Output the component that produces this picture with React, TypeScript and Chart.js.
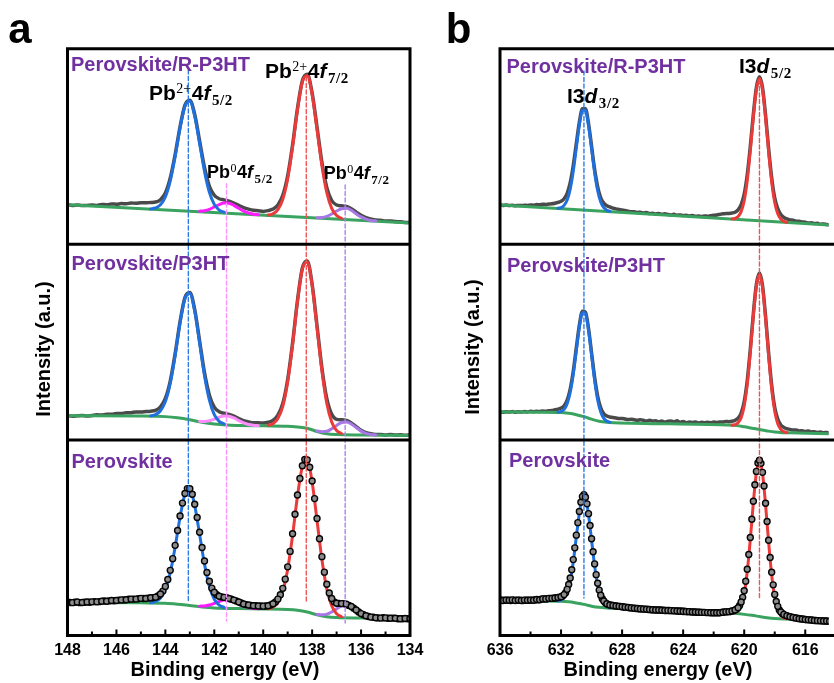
import React, { useEffect, useRef } from "react";
import { Chart, registerables } from "chart.js";
Chart.register(...registerables);

const SANS = '"Liberation Sans", Arial, Helvetica, sans-serif';
const SERIF = '"Liberation Serif", "Times New Roman", Times, serif';

// ---------------- Panel a : Pb 4f (binding energy, eV) ----------------
const xA = [
  148.0, 147.8, 147.6, 147.4, 147.2, 147.0, 146.8, 146.6, 146.4, 146.2,
  146.0, 145.8, 145.6, 145.4, 145.2, 145.0, 144.8, 144.6, 144.4, 144.2,
  144.0, 143.8, 143.6, 143.4, 143.2, 143.0, 142.8, 142.6, 142.4, 142.2,
  142.0, 141.8, 141.6, 141.4, 141.2, 141.0, 140.8, 140.6, 140.4, 140.2,
  140.0, 139.8, 139.6, 139.4, 139.2, 139.0, 138.8, 138.6, 138.4, 138.2,
  138.0, 137.8, 137.6, 137.4, 137.2, 137.0, 136.8, 136.6, 136.4, 136.2,
  136.0, 135.8, 135.6, 135.4, 135.2, 135.0, 134.8, 134.6, 134.4, 134.2,
  134.0,
];
// Perovskite/R-P3HT (top)
const rawTopA = [
  20.3, 19.9, 20.1, 19.8, 19.9, 20.1, 19.9, 20.4, 20.2, 20.6,
  20.5, 20.8, 20.7, 21.1, 21.0, 21.3, 21.2, 21.4, 21.6, 22.8,
  26.2, 33.9, 45.9, 60.1, 71.2, 73.7, 66.4, 52.9, 39.3, 29.7,
  25.1, 23.3, 22.7, 22.1, 21.1, 19.9, 18.8, 18.0, 17.4, 17.2,
  16.8, 17.2, 18.0, 20.1, 25.0, 35.0, 50.8, 69.4, 83.6, 86.9,
  77.3, 59.9, 41.9, 29.0, 22.4, 20.1, 19.7, 19.3, 18.2, 16.4,
  14.8, 13.6, 12.9, 12.4, 12.3, 11.9, 11.9, 11.6, 11.5, 11.2,
  11.2,
];
// Perovskite/P3HT (middle)
const rawMidA = [
  12.4, 12.1, 12.3, 12.5, 12.2, 12.5, 12.8, 12.7, 13.1, 13.1,
  13.5, 13.5, 13.9, 13.9, 14.3, 14.3, 14.5, 14.7, 15.1, 16.9,
  21.2, 30.1, 44.1, 60.4, 72.8, 75.4, 66.6, 50.6, 34.4, 22.9,
  16.7, 14.4, 13.6, 13.0, 12.1, 10.9, 9.8, 9.2, 8.8, 8.8,
  8.6, 9.0, 10.0, 12.7, 18.6, 30.9, 49.5, 71.2, 87.9, 91.5,
  79.6, 58.3, 36.7, 21.1, 13.1, 10.5, 10.3, 9.9, 8.7, 6.8,
  4.9, 3.7, 3.1, 2.8, 2.8, 2.5, 2.7, 2.5, 2.6, 2.4,
  2.6,
];
// Perovskite (bottom) – measured points, two interleaved sampling sets
const rawBotA = [
  17.0, 16.8, 17.1, 16.9, 17.1, 17.2, 17.2, 17.5, 17.5, 17.9,
  17.9, 18.2, 18.3, 18.6, 18.6, 19.0, 18.9, 19.3, 19.6, 21.2,
  25.1, 33.3, 46.1, 61.1, 72.6, 75.0, 67.1, 52.8, 38.1, 27.7,
  22.1, 20.1, 19.5, 18.9, 18.1, 17.1, 16.1, 15.6, 15.2, 15.1,
  15.0, 15.2, 16.2, 18.6, 24.1, 35.1, 52.0, 71.8, 86.8, 89.8,
  79.0, 59.8, 40.3, 26.2, 18.9, 16.5, 16.3, 16.0, 14.8, 13.0,
  11.2, 10.1, 9.4, 9.1, 8.9, 9.0, 8.8, 8.8, 8.6, 8.7,
  8.5,
];
const xA2 = [
  147.9, 147.7, 147.5, 147.3, 147.1, 146.9, 146.7, 146.5, 146.3, 146.1,
  145.9, 145.7, 145.5, 145.3, 145.1, 144.9, 144.7, 144.5, 144.3, 144.1,
  143.9, 143.7, 143.5, 143.3, 143.1, 142.9, 142.7, 142.5, 142.3, 142.1,
  141.9, 141.7, 141.5, 141.3, 141.1, 140.9, 140.7, 140.5, 140.3, 140.1,
  139.9, 139.7, 139.5, 139.3, 139.1, 138.9, 138.7, 138.5, 138.3, 138.1,
  137.9, 137.7, 137.5, 137.3, 137.1, 136.9, 136.7, 136.5, 136.3, 136.1,
  135.9, 135.7, 135.5, 135.3, 135.1, 134.9, 134.7, 134.5, 134.3, 134.1,
];
const rawBotA2 = [
  16.9, 17.0, 16.8, 17.0, 17.0, 17.3, 17.3, 17.6, 17.7, 17.8,
  18.1, 18.2, 18.5, 18.6, 18.8, 18.9, 19.1, 19.3, 20.2, 22.7,
  28.6, 39.3, 53.7, 67.7, 75.1, 72.2, 60.3, 45.0, 32.2, 24.2,
  20.8, 19.7, 19.3, 18.5, 17.6, 16.6, 15.8, 15.4, 15.2, 15.1,
  15.1, 15.6, 17.1, 20.8, 28.8, 43.0, 62.0, 80.3, 90.0, 86.0,
  70.0, 49.5, 32.4, 21.7, 17.2, 16.4, 16.3, 15.4, 13.9, 12.0,
  10.6, 9.7, 9.3, 9.0, 9.1, 8.8, 8.9, 8.6, 8.6, 8.6,
];

const xBlueA = [144.6, 144.4, 144.2, 144.0, 143.8, 143.6, 143.4, 143.2, 143.0, 142.8, 142.6, 142.4, 142.2, 142.0, 141.8, 141.6];
const blueTopA = [18.1, 18.6, 20.2, 24.2, 32.4, 44.9, 59.4, 70.6, 73.1, 65.5, 51.6, 37.3, 26.6, 20.4, 17.5, 16.4];
const blueMidA = [12.3, 12.9, 14.9, 19.6, 28.9, 43.2, 59.8, 72.3, 74.9, 65.9, 49.6, 32.8, 20.3, 12.9, 9.5, 8.2];
const blueBotA = [16.8, 17.4, 19.1, 23.5, 32.1, 45.2, 60.5, 72.1, 74.5, 66.4, 51.7, 36.5, 25.1, 18.5, 15.5, 14.4];

const xRedA = [139.8, 139.6, 139.4, 139.2, 139.0, 138.8, 138.6, 138.4, 138.2, 138.0, 137.8, 137.6, 137.4, 137.2, 137.0, 136.8];
const redTopA = [15.0, 15.6, 17.7, 23.0, 33.5, 49.8, 68.7, 83.0, 86.3, 76.6, 58.7, 40.2, 26.4, 18.4, 14.7, 13.3];
const redMidA = [7.5, 8.3, 10.9, 17.1, 29.7, 48.6, 70.6, 87.4, 91.0, 79.0, 57.3, 35.2, 18.6, 9.2, 4.8, 3.3];
const redBotA = [13.7, 14.6, 16.8, 22.6, 33.9, 51.1, 71.2, 86.3, 89.3, 78.4, 58.8, 38.8, 23.7, 15.2, 11.1, 9.6];

const xMagA = [142.6, 142.4, 142.2, 142.0, 141.8, 141.6, 141.4, 141.2, 141.0, 140.8, 140.6, 140.4, 140.2];
const magTopA = [16.9, 17.2, 17.9, 19.1, 20.3, 21.1, 21.0, 19.9, 18.4, 17.0, 16.0, 15.4, 15.1];
const magMidA = [9.5, 9.4, 9.8, 10.6, 11.6, 12.2, 12.1, 11.2, 9.9, 8.7, 7.9, 7.5, 7.3];
const magBotA = [15.0, 15.1, 15.6, 16.4, 17.4, 18.1, 18.0, 17.2, 16.1, 15.0, 14.3, 13.9, 13.7];

const xPurA = [137.8, 137.6, 137.4, 137.2, 137.0, 136.8, 136.6, 136.4, 136.2, 136.0, 135.8, 135.6, 135.4];
const purTopA = [13.6, 13.7, 14.3, 15.5, 17.0, 18.2, 18.4, 17.4, 15.6, 14.0, 12.9, 12.2, 11.9];
const purMidA = [4.5, 4.2, 4.4, 5.7, 7.4, 8.9, 9.2, 8.1, 6.3, 4.5, 3.3, 2.8, 2.5];
const purBotA = [10.8, 10.6, 10.9, 12.0, 13.6, 15.0, 15.2, 14.2, 12.5, 10.8, 9.7, 9.1, 8.8];

const xBgTopA = [148, 134];
const bgTopA = [20.2, 10.9];
const xBgMidA = [148, 145, 144, 143.5, 143, 142.5, 142, 141.5, 141, 140, 139, 138.6, 138.2, 137.8, 137.4, 137, 136, 134];
const bgMidA = [12.3, 12.2, 11.9, 11.3, 10.3, 9.0, 8.1, 7.6, 7.4, 7.2, 7.0, 6.6, 6.0, 4.3, 3.1, 2.7, 2.5, 2.3];
const xBgBotA = [148, 145, 144, 143.5, 143, 142.5, 142, 141, 140, 139, 138.6, 138.2, 137.8, 137.4, 137, 136, 134];
const bgBotA = [16.9, 16.7, 16.5, 16.0, 15.3, 14.6, 14.1, 13.8, 13.6, 13.3, 12.9, 12.0, 10.6, 9.6, 9.2, 8.9, 8.4];

const dashXA = [143.06, 141.5, 138.24, 136.65];
const dashTopA = [289.1, 231.0, 285.5, 230.3];
const dashBotA = [17.6, 7.4, 17.6, 6.4];

const ticksMajorA = [148, 146, 144, 142, 140, 138, 136, 134];
const ticksMinorA = [147, 145, 143, 141, 139, 137, 135];

// ---------------- Panel b : I 3d (binding energy, eV) ----------------
const xB = [
  636.0, 635.8, 635.6, 635.4, 635.2, 635.0, 634.8, 634.6, 634.4, 634.2,
  634.0, 633.8, 633.6, 633.4, 633.2, 633.0, 632.8, 632.6, 632.4, 632.2,
  632.0, 631.8, 631.6, 631.4, 631.2, 631.0, 630.8, 630.6, 630.4, 630.2,
  630.0, 629.8, 629.6, 629.4, 629.2, 629.0, 628.8, 628.6, 628.4, 628.2,
  628.0, 627.8, 627.6, 627.4, 627.2, 627.0, 626.8, 626.6, 626.4, 626.2,
  626.0, 625.8, 625.6, 625.4, 625.2, 625.0, 624.8, 624.6, 624.4, 624.2,
  624.0, 623.8, 623.6, 623.4, 623.2, 623.0, 622.8, 622.6, 622.4, 622.2,
  622.0, 621.8, 621.6, 621.4, 621.2, 621.0, 620.8, 620.6, 620.4, 620.2,
  620.0, 619.8, 619.6, 619.4, 619.2, 619.0, 618.8, 618.6, 618.4, 618.2,
  618.0, 617.8, 617.6, 617.4, 617.2, 617.0, 616.8, 616.6, 616.4, 616.2,
  616.0, 615.8, 615.6, 615.4, 615.2, 615.0, 614.8, 614.6, 614.4,
];
const rawTopB = [
  20.2, 19.9, 20.1, 19.8, 20.0, 19.7, 19.9, 19.8, 20.0, 19.9,
  20.1, 20.0, 20.3, 20.2, 20.5, 20.4, 20.6, 20.7, 21.0, 21.4,
  22.0, 23.3, 26.1, 31.5, 40.3, 51.5, 62.5, 69.3, 69.3, 61.8,
  50.1, 38.3, 29.4, 23.8, 21.1, 19.7, 19.1, 18.5, 18.1, 17.8,
  17.5, 17.3, 16.9, 16.6, 16.7, 16.3, 16.4, 16.0, 16.2, 15.7,
  15.9, 15.5, 15.7, 15.3, 15.6, 15.2, 15.0, 15.3, 14.9, 15.0,
  14.7, 14.9, 14.5, 14.7, 14.3, 14.5, 14.2, 14.5, 14.4, 14.6,
  14.8, 15.0, 15.3, 15.6, 15.7, 15.8, 16.0, 16.4, 17.6, 20.3,
  25.7, 35.6, 50.0, 66.6, 80.3, 85.6, 80.1, 66.0, 49.0, 34.1,
  23.8, 18.2, 15.2, 13.7, 13.0, 12.5, 12.3, 11.8, 11.8, 11.4,
  11.3, 10.9, 11.0, 10.6, 10.7, 10.3, 10.4, 10.1, 10.0,
];
const rawMidB = [
  14.4, 14.1, 14.4, 14.2, 14.5, 14.1, 14.4, 14.2, 14.5, 14.3,
  14.6, 14.4, 14.6, 14.5, 14.8, 14.6, 14.9, 15.0, 15.4, 15.7,
  16.3, 17.4, 20.3, 26.0, 35.1, 47.1, 58.7, 65.8, 65.3, 57.0,
  44.5, 32.0, 22.3, 16.4, 13.4, 12.2, 11.7, 11.4, 11.2, 10.9,
  11.0, 10.7, 10.4, 10.6, 10.3, 10.0, 10.3, 10.0, 9.7, 10.0,
  9.6, 9.8, 9.3, 9.6, 9.2, 9.5, 9.6, 9.3, 9.8, 9.0,
  9.4, 8.8, 9.2, 8.9, 9.1, 8.7, 9.0, 8.8, 9.0, 8.8,
  9.1, 8.9, 9.2, 9.2, 9.4, 9.3, 9.5, 10.0, 11.1, 13.7,
  19.6, 30.4, 46.3, 64.7, 79.7, 85.3, 79.0, 63.2, 44.5, 28.0,
  16.7, 10.6, 7.6, 6.4, 5.7, 5.4, 5.0, 5.1, 4.6, 4.7,
  4.3, 4.5, 4.1, 4.2, 3.8, 4.0, 3.7, 3.8, 3.5,
];
const rawBotB = [
  18.2, 17.9, 18.1, 18.0, 18.2, 17.9, 18.1, 17.9, 18.1, 18.0,
  18.1, 18.0, 18.4, 18.3, 18.7, 18.7, 19.0, 19.0, 19.2, 19.4,
  19.8, 20.9, 23.6, 29.4, 38.8, 51.3, 63.4, 71.0, 70.7, 62.3,
  49.5, 36.6, 26.7, 20.6, 17.6, 16.2, 15.6, 15.3, 15.1, 14.9,
  14.7, 14.5, 14.3, 14.1, 13.9, 13.8, 13.6, 13.5, 13.4, 13.3,
  13.2, 13.0, 13.0, 12.9, 12.8, 12.8, 12.7, 12.6, 12.5, 12.4,
  12.3, 12.2, 12.2, 12.0, 12.0, 11.9, 11.8, 11.8, 11.7, 11.6,
  11.6, 11.6, 11.6, 11.9, 12.1, 12.2, 12.5, 13.0, 14.2, 17.1,
  22.9, 33.9, 50.1, 68.6, 83.9, 89.6, 83.4, 67.6, 48.7, 32.3,
  21.0, 14.9, 12.0, 10.8, 10.1, 9.6, 9.2, 8.9, 8.6, 8.4,
  8.2, 8.0, 7.9, 7.7, 7.6, 7.5, 7.4, 7.4, 7.3,
];
const xB2 = [
  635.9, 635.7, 635.5, 635.3, 635.1, 634.9, 634.7, 634.5, 634.3, 634.1,
  633.9, 633.7, 633.5, 633.3, 633.1, 632.9, 632.7, 632.5, 632.3, 632.1,
  631.9, 631.7, 631.5, 631.3, 631.1, 630.9, 630.7, 630.5, 630.3, 630.1,
  629.9, 629.7, 629.5, 629.3, 629.1, 628.9, 628.7, 628.5, 628.3, 628.1,
  627.9, 627.7, 627.5, 627.3, 627.1, 626.9, 626.7, 626.5, 626.3, 626.1,
  625.9, 625.7, 625.5, 625.3, 625.1, 624.9, 624.7, 624.5, 624.3, 624.1,
  623.9, 623.7, 623.5, 623.3, 623.1, 622.9, 622.7, 622.5, 622.3, 622.1,
  621.9, 621.7, 621.5, 621.3, 621.1, 620.9, 620.7, 620.5, 620.3, 620.1,
  619.9, 619.7, 619.5, 619.3, 619.1, 618.9, 618.7, 618.5, 618.3, 618.1,
  617.9, 617.7, 617.5, 617.3, 617.1, 616.9, 616.7, 616.5, 616.3, 616.1,
  615.9, 615.7, 615.5, 615.3, 615.1, 614.9, 614.7, 614.5,
];
const rawBotB2 = [
  18.1, 18.0, 18.1, 17.9, 18.1, 18.0, 18.1, 17.9, 18.0, 18.0,
  18.1, 18.2, 18.3, 18.6, 18.7, 18.8, 19.0, 19.1, 19.3, 19.5,
  20.2, 21.9, 26.1, 33.6, 44.8, 57.7, 68.1, 72.0, 67.3, 56.2,
  42.8, 31.1, 23.2, 18.8, 16.7, 15.8, 15.5, 15.2, 15.0, 14.8,
  14.6, 14.4, 14.2, 14.0, 13.8, 13.7, 13.6, 13.5, 13.3, 13.2,
  13.1, 13.0, 13.0, 12.9, 12.8, 12.8, 12.7, 12.6, 12.5, 12.5,
  12.4, 12.2, 12.1, 12.0, 11.9, 11.9, 11.8, 11.7, 11.7, 11.6,
  11.6, 11.6, 11.8, 12.0, 12.1, 12.3, 12.7, 13.5, 15.3, 19.5,
  27.7, 41.4, 59.4, 77.1, 88.2, 88.0, 76.4, 58.3, 39.9, 25.9,
  17.4, 13.1, 11.3, 10.3, 9.8, 9.4, 9.1, 8.8, 8.5, 8.3,
  8.1, 8.0, 7.8, 7.7, 7.6, 7.5, 7.4, 7.3,
];

const xBlueB = [632.2, 632.0, 631.8, 631.6, 631.4, 631.2, 631.0, 630.8, 630.6, 630.4, 630.2, 630.0, 629.8, 629.6, 629.4, 629.2, 629.0, 628.8];
const blueTopB = [18.5, 18.8, 19.9, 22.6, 28.2, 37.3, 49.3, 61.0, 68.5, 68.5, 60.8, 48.9, 36.7, 27.4, 21.6, 18.7, 17.4, 16.9];
const blueMidB = [14.2, 14.6, 15.6, 18.5, 24.2, 33.5, 45.7, 57.6, 65.0, 64.5, 56.2, 43.4, 30.5, 20.4, 14.2, 11.0, 9.6, 9.1];
const blueBotB = [17.7, 18.1, 19.3, 22.2, 28.1, 37.6, 50.3, 62.6, 70.4, 70.1, 61.7, 48.7, 35.6, 25.5, 19.2, 16.1, 14.7, 14.2];

const xRedB = [620.8, 620.6, 620.4, 620.2, 620.0, 619.8, 619.6, 619.4, 619.2, 619.0, 618.8, 618.6, 618.4, 618.2, 618.0, 617.8, 617.6, 617.4, 617.2];
const redTopB = [13.0, 13.2, 14.2, 16.7, 22.3, 32.6, 47.8, 65.1, 79.3, 84.8, 79.2, 64.8, 47.3, 31.9, 21.4, 15.6, 12.9, 11.7, 11.3];
const redMidB = [7.5, 7.8, 8.8, 11.3, 17.4, 28.4, 44.7, 63.4, 78.7, 84.5, 78.1, 62.2, 43.1, 26.2, 14.7, 8.3, 5.4, 4.2, 3.7];
const redBotB = [11.4, 11.7, 12.7, 15.5, 21.5, 32.7, 49.1, 67.9, 83.3, 89.2, 82.9, 66.9, 47.7, 31.0, 19.4, 13.1, 10.2, 9.0, 8.6];

const xBgTopB = [636, 614.4];
const bgTopB = [20.1, 9.86];
const xBgMidB = [636, 632, 631.5, 631, 630.5, 630, 629.5, 629, 628.5, 621.2, 620.5, 620, 619.5, 619, 618.5, 618, 617.5, 617, 614.4];
const bgMidB = [14.3, 14.0, 13.6, 12.9, 11.9, 10.6, 9.5, 9.0, 8.8, 7.6, 7.3, 6.7, 6.0, 5.3, 4.6, 4.0, 3.7, 3.6, 3.2];
const xBgBotB = [636, 632, 631.5, 631, 630.5, 630, 629.5, 629, 628, 621.2, 620.5, 620, 619.5, 619, 618.5, 618, 617, 614.4];
const bgBotB = [17.8, 17.5, 17.2, 16.6, 15.9, 15.0, 14.4, 14.1, 13.8, 11.5, 11.2, 10.8, 10.3, 9.7, 9.1, 8.7, 8.4, 7.6];

const dashXB = [630.5, 619.0];
const dashTopB = [288.6, 284.0];
const dashBotB = [19.2, 19.2];

const ticksMajorB = [636, 632, 628, 624, 620, 616];
const ticksMinorB = [634, 630, 626, 622, 618];

// ---------------- styling ----------------
const COL = {
  raw: "#4a4a4a",
  bg: "#3aa35f",
  blue: "#1f6fdc",
  red: "#ea3a3a",
  mag: "#ff1aff",
  magLight: "#ff8cff",
  pur: "#a877e6",
  dBlue: "#2e7be6",
  dPink: "#ff90ff",
  dRed: "#ef5454",
  dPur: "#ae82e8",
  label: "#7030a0",
};

type Comp = { x: number[]; y: number[]; color: string };
type Sub = {
  off: number; raw: number[]; bgx: number[]; bgy: number[]; comps: Comp[]; circles: boolean;
  x2?: number[]; raw2?: number[];
};

const pts = (xs: number[], ys: number[], off: number) => xs.map((x, i) => ({ x, y: ys[i] + off }));

function circleSet(xs: number[], ys: number[], off: number) {
  return {
    data: pts(xs, ys, off), showLine: false, pointRadius: 3, pointBorderWidth: 1.4,
    pointBorderColor: "#050505", pointBackgroundColor: "#8c8c8c", order: 20,
  };
}

function makeDatasets(xRaw: number[], subs: Sub[], dx: number[], dTop: number[], dBot: number[], dCol: string[]) {
  const ds: any[] = [];
  for (const s of subs) {
    if (s.circles) {
      ds.push(circleSet(xRaw, s.raw, s.off));
      if (s.x2 && s.raw2) ds.push(circleSet(s.x2, s.raw2, s.off));
    } else {
      ds.push({
        data: pts(xRaw, s.raw, s.off), borderColor: COL.raw, borderWidth: 3.5, pointRadius: 0,
        cubicInterpolationMode: "monotone", order: 50,
      });
    }
    ds.push({
      data: pts(s.bgx, s.bgy, s.off), borderColor: COL.bg, borderWidth: 3, pointRadius: 0,
      cubicInterpolationMode: "monotone", order: 40,
    });
    for (const c of s.comps) {
      ds.push({
        data: pts(c.x, c.y, s.off), borderColor: c.color, borderWidth: 3, pointRadius: 0,
        cubicInterpolationMode: "monotone", order: 30,
      });
    }
  }
  dx.forEach((x, i) => {
    ds.push({
      data: [{ x, y: dTop[i] }, { x, y: dBot[i] }], borderColor: dCol[i], borderWidth: 1.4,
      borderDash: [4, 2.5], pointRadius: 0, tension: 0, order: 10,
    });
  });
  return ds;
}

const framePlugin = {
  id: "xpsFrame",
  afterDraw(chart: any, _args: any, opts: any) {
    const { ctx, chartArea: ar, scales } = chart;
    const xs = scales.x;
    const ys = scales.y;
    ctx.save();
    ctx.strokeStyle = "#000";
    ctx.lineWidth = 3;
    ctx.lineCap = "square";
    const R = opts.rightBorder ? ar.right : ar.right + 10;
    ctx.beginPath();
    ctx.moveTo(ar.left, ar.top); ctx.lineTo(R, ar.top);
    ctx.moveTo(ar.left, ar.top); ctx.lineTo(ar.left, ar.bottom);
    ctx.moveTo(ar.left, ar.bottom); ctx.lineTo(R, ar.bottom);
    if (opts.rightBorder) { ctx.moveTo(ar.right, ar.top); ctx.lineTo(ar.right, ar.bottom); }
    for (const v of opts.separators) {
      const py = ys.getPixelForValue(v);
      ctx.moveTo(ar.left, py); ctx.lineTo(R, py);
    }
    ctx.stroke();
    ctx.lineWidth = 2;
    ctx.lineCap = "butt";
    ctx.beginPath();
    for (const t of opts.major) { const px = xs.getPixelForValue(t); ctx.moveTo(px, ar.bottom); ctx.lineTo(px, ar.bottom - 6); }
    for (const t of opts.minor) { const px = xs.getPixelForValue(t); ctx.moveTo(px, ar.bottom); ctx.lineTo(px, ar.bottom - 4); }
    ctx.stroke();
    ctx.fillStyle = "#000";
    ctx.font = `bold 16px ${SANS}`;
    ctx.textAlign = "center";
    ctx.textBaseline = "alphabetic";
    for (const t of opts.major) ctx.fillText(String(t), xs.getPixelForValue(t), ar.bottom + 19.5);
    ctx.restore();
  },
};

function buildConfig(datasets: any[], min: number, max: number, padding: any, frame: any): any {
  return {
    type: "line",
    data: { datasets },
    options: {
      responsive: false,
      maintainAspectRatio: false,
      animation: false,
      devicePixelRatio: 1,
      events: [],
      layout: { padding },
      scales: {
        x: { type: "linear", min, max, reverse: true, display: false },
        y: { type: "linear", min: 0, max: 300, display: false },
      },
      elements: { line: { borderCapStyle: "round", borderJoinStyle: "round" } },
      plugins: { legend: { display: false }, tooltip: { enabled: false }, xpsFrame: frame },
    },
    plugins: [framePlugin],
  };
}

// ---------------- text helpers ----------------
const T = (p: { left: number; base: number; size: number; color?: string; children: any }) => (
  <div
    style={{
      position: "absolute", left: p.left, top: p.base - 0.8465 * p.size, fontFamily: SANS,
      fontSize: p.size, fontWeight: "bold", lineHeight: `${p.size}px`, color: p.color || "#000",
      whiteSpace: "nowrap",
    }}
  >
    {p.children}
  </div>
);
const Sup = (p: { s: number; r: number; children: any }) => (
  <span style={{ fontFamily: SERIF, fontSize: p.s, fontWeight: "normal", position: "relative", top: -p.r, marginLeft: 0.5, marginRight: 0.5 }}>
    {p.children}
  </span>
);
const Sub = (p: { s: number; d: number; children: any }) => (
  <span style={{ fontFamily: SERIF, fontSize: p.s, fontWeight: "bold", position: "relative", top: p.d, marginLeft: 1.5, letterSpacing: 0.6 }}>
    {p.children}
  </span>
);
const It = (p: { children: any }) => <span style={{ fontStyle: "italic" }}>{p.children}</span>;

export default function App() {
  const refA = useRef<HTMLCanvasElement>(null);
  const refB = useRef<HTMLCanvasElement>(null);

  useEffect(() => {
    const subsA: Sub[] = [
      {
        off: 200, raw: rawTopA, bgx: xBgTopA, bgy: bgTopA, circles: false,
        comps: [
          { x: xBlueA, y: blueTopA, color: COL.blue }, { x: xRedA, y: redTopA, color: COL.red },
          { x: xMagA, y: magTopA, color: COL.mag }, { x: xPurA, y: purTopA, color: COL.pur },
        ],
      },
      {
        off: 100, raw: rawMidA, bgx: xBgMidA, bgy: bgMidA, circles: false,
        comps: [
          { x: xBlueA, y: blueMidA, color: COL.blue }, { x: xRedA, y: redMidA, color: COL.red },
          { x: xMagA, y: magMidA, color: COL.magLight }, { x: xPurA, y: purMidA, color: COL.pur },
        ],
      },
      {
        off: 0, raw: rawBotA, bgx: xBgBotA, bgy: bgBotA, circles: true, x2: xA2, raw2: rawBotA2,
        comps: [
          { x: xBlueA, y: blueBotA, color: COL.blue }, { x: xRedA, y: redBotA, color: COL.red },
          { x: xMagA, y: magBotA, color: COL.mag }, { x: xPurA, y: purBotA, color: COL.pur },
        ],
      },
    ];
    const subsB: Sub[] = [
      {
        off: 200, raw: rawTopB, bgx: xBgTopB, bgy: bgTopB, circles: false,
        comps: [{ x: xBlueB, y: blueTopB, color: COL.blue }, { x: xRedB, y: redTopB, color: COL.red }],
      },
      {
        off: 100, raw: rawMidB, bgx: xBgMidB, bgy: bgMidB, circles: false,
        comps: [{ x: xBlueB, y: blueMidB, color: COL.blue }, { x: xRedB, y: redMidB, color: COL.red }],
      },
      {
        off: 0, raw: rawBotB, bgx: xBgBotB, bgy: bgBotB, circles: true, x2: xB2, raw2: rawBotB2,
        comps: [{ x: xBlueB, y: blueBotB, color: COL.blue }, { x: xRedB, y: redBotB, color: COL.red }],
      },
    ];

    const dsA = makeDatasets(xA, subsA, dashXA, dashTopA, dashBotA, [COL.dBlue, COL.dPink, COL.dRed, COL.dPur]);
    const dsB = makeDatasets(xB, subsB, dashXB, dashTopB, dashBotB, [COL.dBlue, COL.dRed]);

    const ca = new Chart(
      refA.current as HTMLCanvasElement,
      buildConfig(dsA, 134, 148, { left: 67.5, right: 30, top: 48.7, bottom: 47.5 }, {
        rightBorder: true, separators: [100, 200], major: ticksMajorA, minor: ticksMinorA,
      })
    );
    const cb = new Chart(
      refB.current as HTMLCanvasElement,
      buildConfig(dsB, 614.47, 636, { left: 80, right: 0, top: 48.7, bottom: 47.5 }, {
        rightBorder: false, separators: [100, 200], major: ticksMajorB, minor: ticksMinorB,
      })
    );
    return () => {
      ca.destroy();
      cb.destroy();
    };
  }, []);

  const P = COL.label;
  return (
    <div style={{ position: "fixed", left: 0, top: 0, width: 834, height: 683, overflow: "hidden", background: "#fff" }}>
      <canvas ref={refA} width={440} height={683} style={{ position: "absolute", left: 0, top: 0 }} />
      <canvas ref={refB} width={414} height={683} style={{ position: "absolute", left: 420, top: 0 }} />

      <T left={8.3} base={43.3} size={42}>a</T>
      <T left={445.8} base={43.3} size={42}>b</T>

      <T left={71} base={70.5} size={20} color={P}>Perovskite/R-P3HT</T>
      <T left={71.5} base={269.5} size={20} color={P}>Perovskite/P3HT</T>
      <T left={71.5} base={467.5} size={20} color={P}>Perovskite</T>
      <T left={506.5} base={72.5} size={20} color={P}>Perovskite/R-P3HT</T>
      <T left={507} base={271.5} size={20} color={P}>Perovskite/P3HT</T>
      <T left={509} base={467.3} size={20} color={P}>Perovskite</T>

      <T left={149} base={100} size={21}>
        Pb<Sup s={14} r={7}>2+</Sup>4<It>f</It><Sub s={15} d={5}>5/2</Sub>
      </T>
      <T left={265} base={77.5} size={21}>
        Pb<Sup s={14} r={7}>2+</Sup>4<It>f</It><Sub s={15} d={5}>7/2</Sub>
      </T>
      <T left={207} base={178.5} size={18}>
        Pb<Sup s={12} r={6}>0</Sup>4<It>f</It><Sub s={13} d={4.5}>5/2</Sub>
      </T>
      <T left={323.7} base={179.5} size={18}>
        Pb<Sup s={12} r={6}>0</Sup>4<It>f</It><Sub s={13} d={4.5}>7/2</Sub>
      </T>
      <T left={567} base={102.5} size={21}>
        I3<It>d</It><Sub s={15} d={5}>3/2</Sub>
      </T>
      <T left={739} base={72.5} size={21}>
        I3<It>d</It><Sub s={15} d={5}>5/2</Sub>
      </T>

      <div style={{ position: "absolute", left: 225 - 150, top: 676 - 16.93, width: 300, textAlign: "center", fontFamily: SANS, fontSize: 20, fontWeight: "bold", lineHeight: "20px", whiteSpace: "nowrap" }}>
        Binding energy (eV)
      </div>
      <div style={{ position: "absolute", left: 658 - 150, top: 676 - 16.93, width: 300, textAlign: "center", fontFamily: SANS, fontSize: 20, fontWeight: "bold", lineHeight: "20px", whiteSpace: "nowrap" }}>
        Binding energy (eV)
      </div>
      <div style={{ position: "absolute", left: 43.3 - 100, top: 349.2 - 10, width: 200, height: 20, textAlign: "center", fontFamily: SANS, fontSize: 20, fontWeight: "bold", lineHeight: "20px", whiteSpace: "nowrap", transform: "rotate(-90deg)" }}>
        Intensity (a.u.)
      </div>
      <div style={{ position: "absolute", left: 471.6 - 100, top: 346.7 - 10, width: 200, height: 20, textAlign: "center", fontFamily: SANS, fontSize: 20, fontWeight: "bold", lineHeight: "20px", whiteSpace: "nowrap", transform: "rotate(-90deg)" }}>
        Intensity (a.u.)
      </div>
    </div>
  );
}
